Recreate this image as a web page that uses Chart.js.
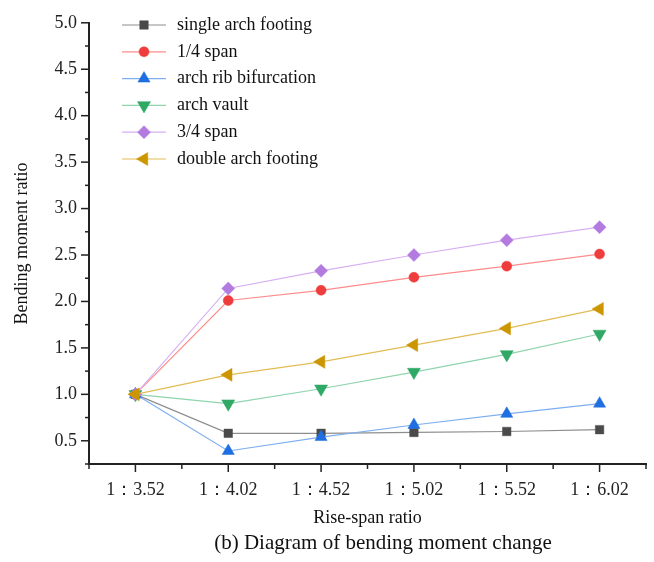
<!DOCTYPE html>
<html>
<head>
<meta charset="utf-8">
<script src="https://cdn.jsdelivr.net/npm/chart.js@4.4.0/dist/chart.umd.min.js"></script>
<style>
  html, body { margin: 0; padding: 0; background: #fff; }
  #wrap { width: 654px; height: 562px; }
</style>
</head>
<body>
<div id="wrap"><canvas id="momentChart" width="654" height="562"></canvas></div>
<script>
// rise-span ratios on the x axis
const riseSpanLabels = ["1：3.52", "1：4.02", "1：4.52", "1：5.02", "1：5.52", "1：6.02"];

// bending moment ratio per section
const singleArchFooting = [1.0, 0.58, 0.58, 0.59, 0.6, 0.62];
const quarterSpan = [1.0, 2.01, 2.12, 2.26, 2.38, 2.51];
const archRibBifurcation = [1.0, 0.39, 0.54, 0.67, 0.79, 0.9];
const archVault = [1.0, 0.9, 1.06, 1.24, 1.43, 1.65];
const threeQuarterSpan = [1.0, 2.14, 2.33, 2.5, 2.66, 2.8];
const doubleArchFooting = [1.0, 1.21, 1.35, 1.53, 1.71, 1.92];

const yMin = 0.25;
const yMax = 5.0;
const yStep = 0.25;

const serif = "'Liberation Serif', 'Times New Roman', serif";

function isMajor(v) {
  return Math.abs(v * 2 - Math.round(v * 2)) < 1e-6;
}

function makeSeries(label, data, line, marker, style, radius, rotation) {
  return {
    label: label,
    data: data,
    borderColor: line,
    borderWidth: 1.2,
    pointStyle: style,
    pointRadius: radius,
    pointHoverRadius: radius,
    pointRotation: rotation || 0,
    pointBackgroundColor: marker,
    pointBorderColor: marker,
    pointBorderWidth: 0.5,
    tension: 0,
  };
}

const datasets = [
  makeSeries("single arch footing", singleArchFooting, "#8e8e8e", "#4a4a4a", "rect", 6),
  makeSeries("1/4 span", quarterSpan, "#ff8c8c", "#ef3d3d", "circle", 5),
  makeSeries("arch rib bifurcation", archRibBifurcation, "#7eaef0", "#1f6fe0", "triangle", 7),
  makeSeries("arch vault", archVault, "#8fd4ad", "#30a866", "triangle", 7.5, 180),
  makeSeries("3/4 span", threeQuarterSpan, "#d6b0f2", "#b37ae0", "rectRot", 6.5),
  makeSeries("double arch footing", doubleArchFooting, "#e2bd55", "#cc9600", "triangle", 7.5, 270),
];
// later series on top, like the original plot
datasets.forEach((ds, i) => (ds.order = datasets.length - i));

// tick marks: long at labelled values, short in between
const axisTicks = {
  id: "axisTicks",
  afterDraw(chart) {
    const { ctx, chartArea } = chart;
    const x = chart.scales.x;
    const y = chart.scales.y;
    ctx.save();
    ctx.strokeStyle = "#222";
    ctx.lineWidth = 1.5;
    y.ticks.forEach((t) => {
      const py = y.getPixelForValue(t.value);
      const len = isMajor(t.value) ? 8 : 4;
      ctx.beginPath();
      ctx.moveTo(chartArea.left, py);
      ctx.lineTo(chartArea.left - len, py);
      ctx.stroke();
    });
    const n = x.ticks.length;
    const half = (x.getPixelForTick(1) - x.getPixelForTick(0)) / 2;
    for (let i = 0; i < n; i++) {
      const px = x.getPixelForTick(i);
      ctx.beginPath();
      ctx.moveTo(px, chartArea.bottom);
      ctx.lineTo(px, chartArea.bottom + 8);
      ctx.stroke();
    }
    for (let i = 0; i <= n; i++) {
      const px = x.getPixelForTick(0) - half + i * 2 * half;
      ctx.beginPath();
      ctx.moveTo(px, chartArea.bottom);
      ctx.lineTo(px, chartArea.bottom + 5);
      ctx.stroke();
    }
    ctx.restore();
  },
};

// legend inside the plot, line sample + marker
const insideLegend = {
  id: "insideLegend",
  afterDraw(chart) {
    const ctx = chart.ctx;
    const x0 = 122, x1 = 166, tx = 177;
    let y = 25;
    chart.data.datasets.forEach((ds) => {
      ctx.save();
      ctx.strokeStyle = ds.borderColor;
      ctx.lineWidth = 1.2;
      ctx.beginPath();
      ctx.moveTo(x0, y);
      ctx.lineTo(x1, y);
      ctx.stroke();
      ctx.fillStyle = ds.pointBackgroundColor;
      ctx.strokeStyle = ds.pointBorderColor;
      ctx.lineWidth = 0.5;
      Chart.helpers.drawPoint(ctx, {
        pointStyle: ds.pointStyle,
        rotation: ds.pointRotation,
        radius: ds.pointRadius,
        borderWidth: 0.5,
      }, (x0 + x1) / 2, y);
      ctx.fillStyle = "#111";
      ctx.font = "18px " + serif;
      ctx.textAlign = "left";
      ctx.textBaseline = "middle";
      ctx.fillText(ds.label, tx, y);
      ctx.restore();
      y += 26.8;
    });
  },
};

const caption = {
  id: "caption",
  afterDraw(chart) {
    const ctx = chart.ctx;
    ctx.save();
    ctx.fillStyle = "#111";
    ctx.font = "21px " + serif;
    ctx.textAlign = "center";
    ctx.textBaseline = "middle";
    ctx.fillText("(b) Diagram of bending moment change", 383, 543);
    ctx.restore();
  },
};

new Chart(document.getElementById("momentChart"), {
  type: "line",
  data: { labels: riseSpanLabels, datasets: datasets },
  plugins: [axisTicks, insideLegend, caption],
  options: {
    responsive: false,
    animation: false,
    devicePixelRatio: 1,
    layout: { padding: { top: 14, right: 7, left: 0, bottom: 0 } },
    plugins: {
      legend: { display: false },
      tooltip: { enabled: false },
    },
    scales: {
      x: {
        type: "category",
        offset: true,
        grid: { display: false, drawTicks: false },
        border: { display: true, color: "#222", width: 2 },
        ticks: {
          padding: 15,
          color: "#222",
          font: { family: serif, size: 18 },
          maxRotation: 0,
        },
        title: {
          display: true,
          text: "Rise-span ratio",
          color: "#111",
          font: { family: serif, size: 18 },
          padding: { top: 0, bottom: 33 },
        },
        afterFit(scale) {
          scale.height = 98;
        },
      },
      y: {
        type: "linear",
        min: yMin,
        max: yMax,
        grid: { display: false, drawTicks: false },
        border: { display: true, color: "#222", width: 2 },
        ticks: {
          stepSize: yStep,
          autoSkip: false,
          padding: 12,
          color: "#222",
          font: { family: serif, size: 18 },
          callback: (v) => (isMajor(v) ? v.toFixed(1) : ""),
        },
        title: {
          display: true,
          text: "Bending moment ratio",
          color: "#111",
          font: { family: serif, size: 18 },
          padding: { top: 11, bottom: 0 },
        },
        afterFit(scale) {
          scale.width = 89;
        },
      },
    },
  },
});
</script>
</body>
</html>
